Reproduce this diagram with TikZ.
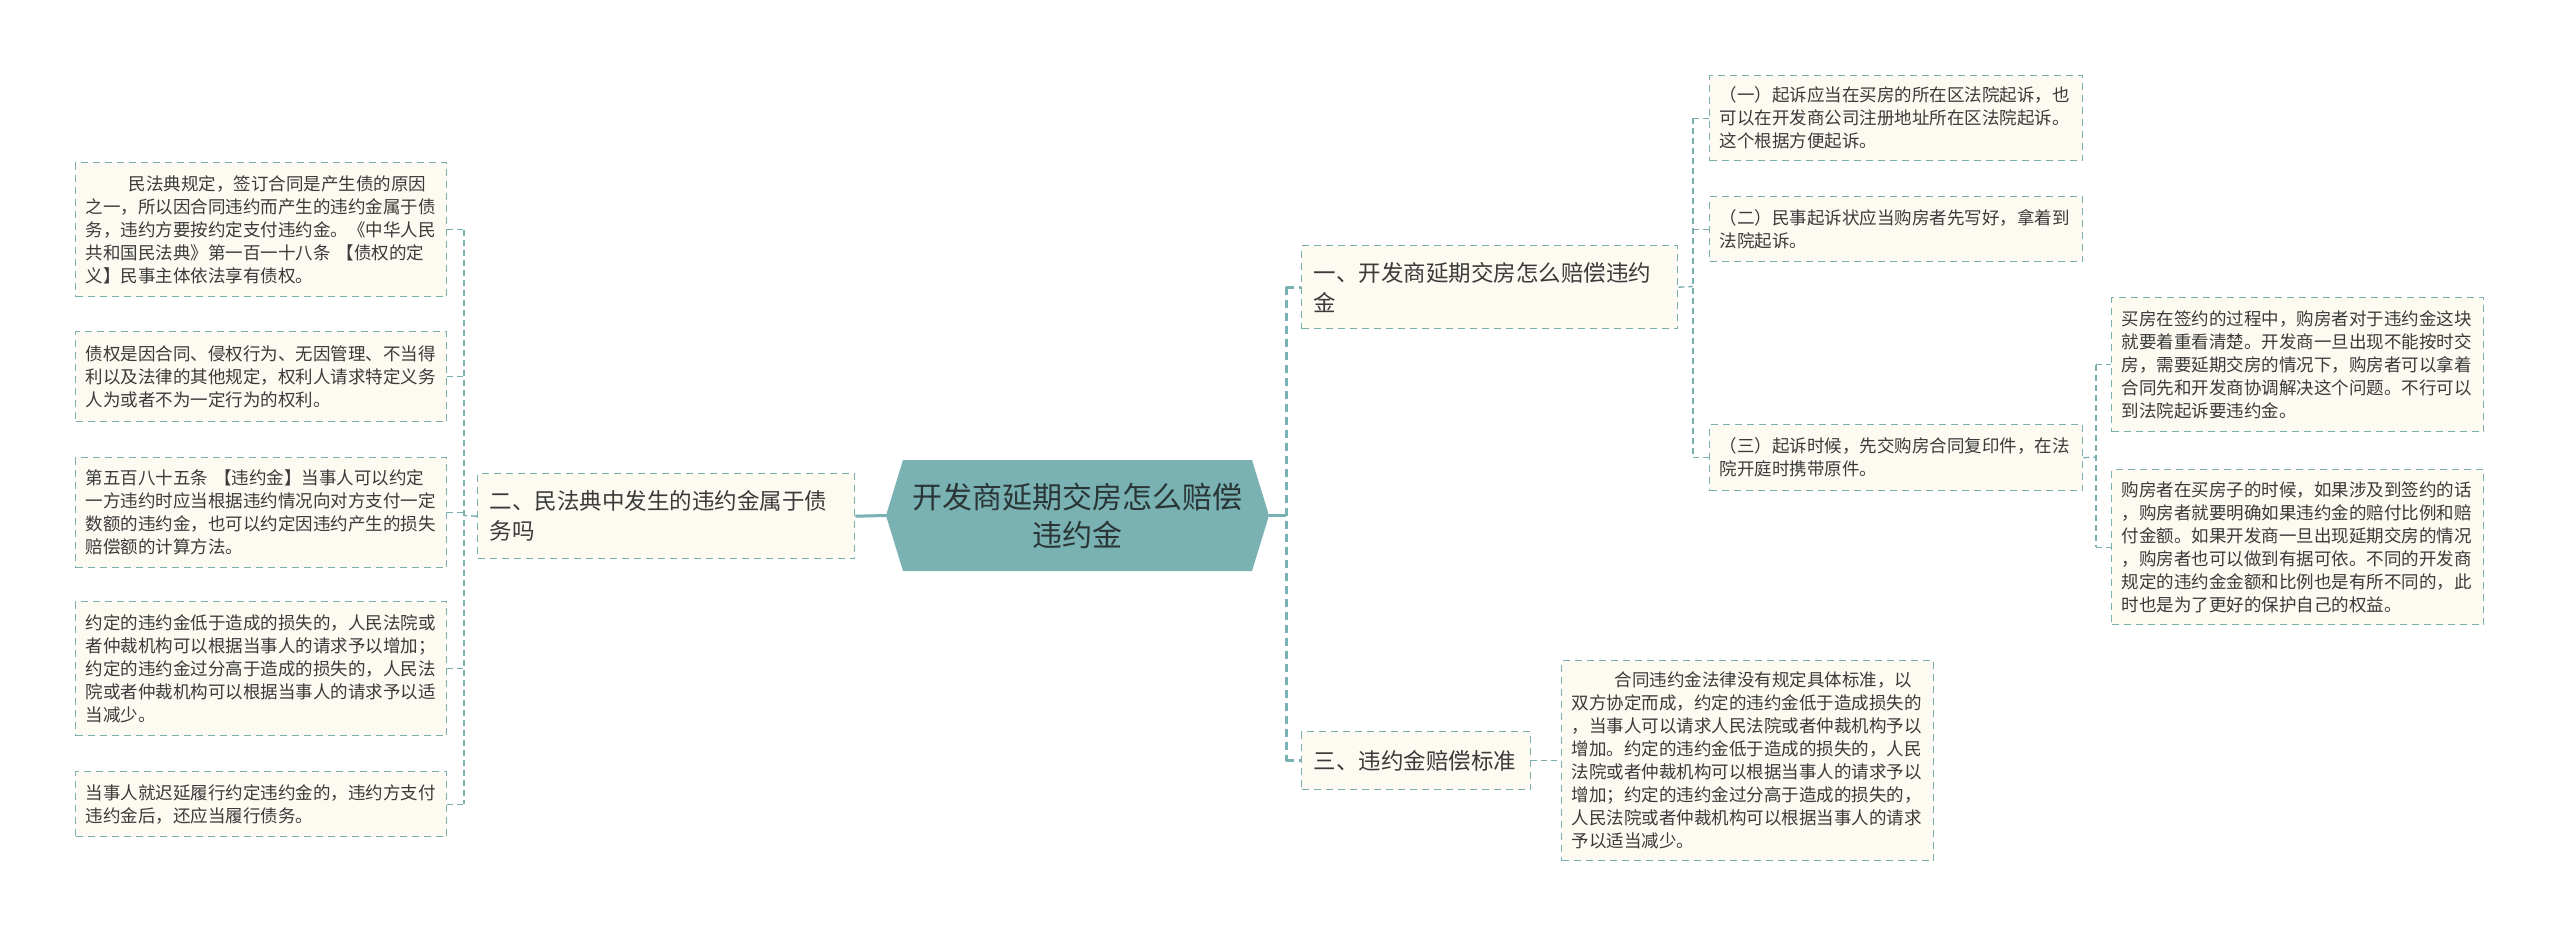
\documentclass[tikz,border=0pt]{standalone}
\usepackage{fontspec}
\setmainfont{Noto Sans CJK SC}
\usetikzlibrary{calc}
\definecolor{bord}{HTML}{7BAFAF}
\definecolor{boxfill}{HTML}{FDFAF2}
\definecolor{centfill}{HTML}{7AB2B4}
\definecolor{txt}{HTML}{3A3A3A}
\definecolor{centtxt}{HTML}{2A3636}
\tikzset{
  leaf/.style={draw=bord, fill=boxfill, dash pattern=on 7pt off 5pt, line width=1.4pt,
    anchor=north west, inner xsep=10pt, inner ysep=0pt, align=left, text=txt,
    font=\fontsize{17.5}{23}\selectfont},
  branch/.style={leaf, inner xsep=12pt, font=\fontsize{22.5}{30}\selectfont},
  centre/.style={inner sep=0pt, align=center, text=centtxt, font=\fontsize{30}{38}\selectfont},
  conn/.style={draw=bord, line width=1.4pt, dash pattern=on 6pt off 4pt},
  mainconn/.style={draw=centfill, line width=3pt},
  mainbus/.style={draw=centfill, line width=3pt, dash pattern=on 8pt off 5pt},
}
\begin{document}
\begin{tikzpicture}[x=1pt,y=-1pt]
\useasboundingbox (0,0) rectangle (2560,935);
\fill[white] (0,0) rectangle (2560,935);

% central node
\fill[centfill] (903,460) -- (1252,460) -- (1269,515.5) -- (1252,571) -- (903,571) -- (886,515.5) -- cycle;
\node[centre, minimum width=349pt, minimum height=111pt] (c) at (1077.5,515.5)
  {开发商延期交房怎么赔偿\\违约金};
\coordinate (cw) at (886,515.5);
\coordinate (ce) at (1269,515.5);

% left branch
\node[branch, text width=353pt, minimum height=85pt] (n2) at (477,473)
  {二、民法典中发生的违约金属于债\\务吗};

\node[leaf, text width=351pt, minimum height=134pt] (L1) at (75,162)
  {\hspace*{43pt}民法典规定，签订合同是产生债的原因\\之一，所以因合同违约而产生的违约金属于债\\务，违约方要按约定支付违约金。《中华人民\\共和国民法典》第一百一十八条 【债权的定\\义】民事主体依法享有债权。};
\node[leaf, text width=351pt, minimum height=90pt] (L2) at (75,331)
  {债权是因合同、侵权行为、无因管理、不当得\\利以及法律的其他规定，权利人请求特定义务\\人为或者不为一定行为的权利。};
\node[leaf, text width=351pt, minimum height=110pt] (L3) at (75,457)
  {第五百八十五条 【违约金】当事人可以约定\\一方违约时应当根据违约情况向对方支付一定\\数额的违约金，也可以约定因违约产生的损失\\赔偿额的计算方法。};
\node[leaf, text width=351pt, minimum height=134pt] (L4) at (75,601)
  {约定的违约金低于造成的损失的，人民法院或\\者仲裁机构可以根据当事人的请求予以增加；\\约定的违约金过分高于造成的损失的，人民法\\院或者仲裁机构可以根据当事人的请求予以适\\当减少。};
\node[leaf, text width=351pt, minimum height=65pt] (L5) at (75,771)
  {当事人就迟延履行约定违约金的，违约方支付\\违约金后，还应当履行债务。};

% right branches
\node[branch, text width=352pt, minimum height=83pt] (n1) at (1301,245)
  {一、开发商延期交房怎么赔偿违约\\金};
\node[branch, text width=205pt, minimum height=58pt] (n3) at (1301,731)
  {三、违约金赔偿标准};

\node[leaf, text width=353pt, minimum height=85pt] (R1) at (1709,75)
  {（一）起诉应当在买房的所在区法院起诉，也\\可以在开发商公司注册地址所在区法院起诉。\\这个根据方便起诉。};
\node[leaf, text width=353pt, minimum height=65pt] (R2) at (1709,196)
  {（二）民事起诉状应当购房者先写好，拿着到\\法院起诉。};
\node[leaf, text width=353pt, minimum height=66pt] (R3) at (1709,424)
  {（三）起诉时候，先交购房合同复印件，在法\\院开庭时携带原件。};

\node[leaf, text width=352pt, minimum height=134pt] (R3a) at (2111,297)
  {买房在签约的过程中，购房者对于违约金这块\\就要着重看清楚。开发商一旦出现不能按时交\\房，需要延期交房的情况下，购房者可以拿着\\合同先和开发商协调解决这个问题。不行可以\\到法院起诉要违约金。};
\node[leaf, text width=352pt, minimum height=155pt] (R3b) at (2111,469)
  {购房者在买房子的时候，如果涉及到签约的话\\，购房者就要明确如果违约金的赔付比例和赔\\付金额。如果开发商一旦出现延期交房的情况\\，购房者也可以做到有据可依。不同的开发商\\规定的违约金金额和比例也是有所不同的，此\\时也是为了更好的保护自己的权益。};

\node[leaf, text width=352pt, minimum height=200pt] (T) at (1561,660)
  {\hspace*{43pt}合同违约金法律没有规定具体标准，以\\双方协定而成，约定的违约金低于造成损失的\\，当事人可以请求人民法院或者仲裁机构予以\\增加。约定的违约金低于造成的损失的，人民\\法院或者仲裁机构可以根据当事人的请求予以\\增加；约定的违约金过分高于造成的损失的，\\人民法院或者仲裁机构可以根据当事人的请求\\予以适当减少。};

% connectors: centre
\draw[mainconn] (n2.east) -- (cw);
\coordinate (bR) at (1286,515.5);
\draw[mainconn] (ce) -- (bR);
\draw[mainbus] (n1.west -| bR) -- (n3.west -| bR);
\draw[mainbus] (n1.west -| bR) -- (n1.west);
\draw[mainbus] (n3.west -| bR) -- (n3.west);

% left bus
\coordinate (bL) at (464,515.5);
\draw[conn] (n2.west) -- (bL);
\draw[conn] (L1.east -| bL) -- (L5.east -| bL);
\foreach \n in {L1,L2,L3,L4,L5} \draw[conn] (\n.east) -- (\n.east -| bL);

% node 1 bus
\coordinate (b1) at (1693,286.5);
\draw[conn] (n1.east) -- (b1);
\draw[conn] (R1.west -| b1) -- (R3.west -| b1);
\foreach \n in {R1,R2,R3} \draw[conn] (\n.west -| b1) -- (\n.west);

% R3 bus
\coordinate (b3) at (2096,457);
\draw[conn] (R3.east) -- (b3);
\draw[conn] (R3a.west -| b3) -- (R3b.west -| b3);
\foreach \n in {R3a,R3b} \draw[conn] (\n.west -| b3) -- (\n.west);

% node 3 child
\draw[conn] (n3.east) -- (T.west);
\end{tikzpicture}
\end{document}
